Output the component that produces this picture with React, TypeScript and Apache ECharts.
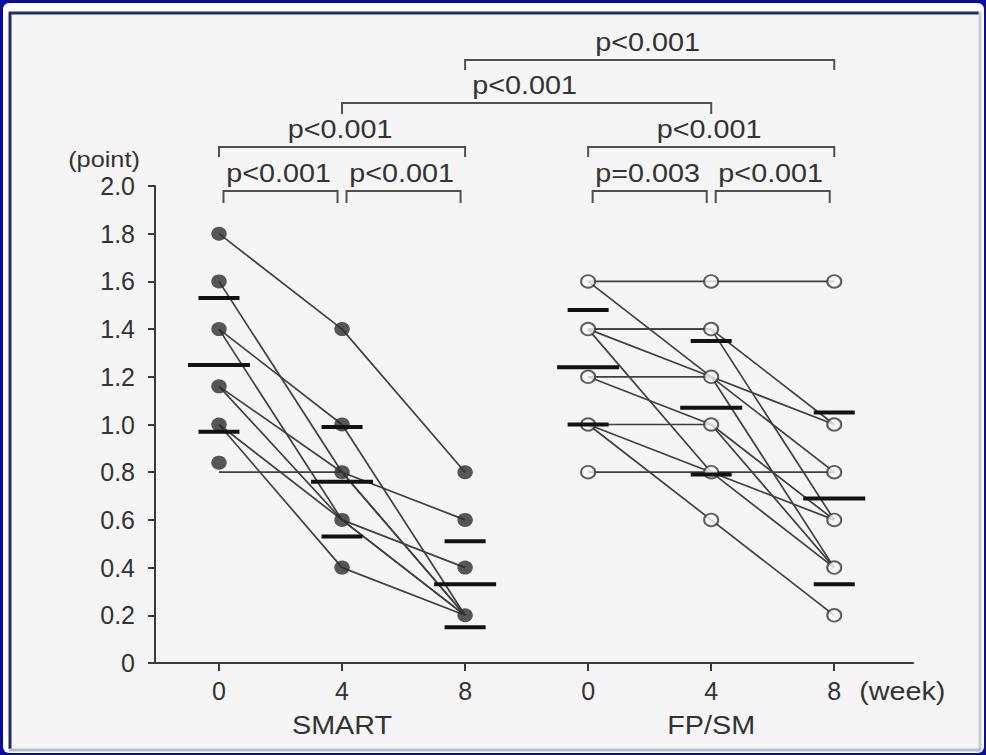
import { useEffect, useRef } from "react";
import * as echarts from "echarts";

// Slot order along the x axis: SMART 0/4/8 weeks, then FP/SM 0/4/8 weeks
const groupNames = ["SMART", "FP/SM"];
const weekLabels = ["0", "4", "8"];

// Individual patients: score at week 0, 4, 8
const smartSubjects: number[][] = [
  [1.8, 1.4, 0.8],
  [1.6, 0.8, 0.2],
  [1.4, 1.0, 0.2],
  [1.4, 0.6, 0.2],
  [1.16, 0.8, 0.6],
  [1.16, 0.6, 0.4],
  [1.0, 0.6, 0.2],
  [1.0, 0.4, 0.2],
  [0.8, 0.8, 0.2],
];
const fpsmSubjects: number[][] = [
  [1.6, 1.6, 1.6],
  [1.6, 1.2, 0.8],
  [1.4, 1.4, 1.0],
  [1.4, 1.4, 0.6],
  [1.4, 1.2, 1.0],
  [1.4, 0.8, 0.4],
  [1.2, 1.2, 0.4],
  [1.2, 1.0, 0.6],
  [1.0, 1.0, 0.4],
  [1.0, 0.8, 0.6],
  [1.0, 0.6, 0.2],
  [0.8, 0.8, 0.8],
];

// Plotted markers per week (overlapping patients share one marker)
const smartDots: number[][] = [
  [1.8, 1.6, 1.4, 1.16, 1.0, 0.84],
  [1.4, 1.0, 0.8, 0.6, 0.4],
  [0.8, 0.6, 0.4, 0.2],
];
const fpsmDots: number[][] = [
  [1.6, 1.4, 1.2, 1.0, 0.8],
  [1.6, 1.4, 1.2, 1.0, 0.8, 0.6],
  [1.6, 1.0, 0.8, 0.6, 0.4, 0.2],
];

// Mean and standard deviation per week
const smartMean = [1.25, 0.76, 0.33];
const smartSd = [0.28, 0.23, 0.18];
const fpsmMean = [1.24, 1.07, 0.69];
const fpsmSd = [0.24, 0.28, 0.36];

// Pairwise comparisons between slots (0..5); level = bracket row from the bottom
const comparisons = [
  { from: 0, to: 1, label: "p<0.001", level: 0 },
  { from: 1, to: 2, label: "p<0.001", level: 0 },
  { from: 3, to: 4, label: "p=0.003", level: 0 },
  { from: 4, to: 5, label: "p<0.001", level: 0 },
  { from: 0, to: 2, label: "p<0.001", level: 1 },
  { from: 3, to: 5, label: "p<0.001", level: 1 },
  { from: 1, to: 4, label: "p<0.001", level: 2 },
  { from: 2, to: 5, label: "p<0.001", level: 3 },
];

const FONT = '"Liberation Sans", Arial, Helvetica, sans-serif';
const INK = "#3a3a3a";

export default function App() {
  const ref = useRef<HTMLDivElement>(null);

  useEffect(() => {
    document.body.style.margin = "0";
    const chart = echarts.init(ref.current!, null, { renderer: "svg" });

    const lineSeries: any[] = [];
    const addLines = (subjects: number[][], offset: number) => {
      subjects.forEach((s) => {
        lineSeries.push({
          type: "line",
          data: s.map((v, i) => [offset + i, v]),
          symbol: "none",
          silent: true,
          z: 2,
          lineStyle: { color: "#404040", width: 1.7 },
        });
      });
    };
    addLines(smartSubjects, 0);
    addLines(fpsmSubjects, 3);

    const dotData = (dots: number[][], offset: number) =>
      dots.flatMap((vals, i) => vals.map((v) => [offset + i, v]));

    const statData = [
      ...smartMean.map((m, i) => [i, m, smartSd[i]]),
      ...fpsmMean.map((m, i) => [3 + i, m, fpsmSd[i]]),
    ];

    const slots = [0, 1, 2, 3, 4, 5];

    chart.setOption({
      animation: false,
      grid: { left: 155, right: 73, top: 186, bottom: 92, containLabel: false },
      xAxis: {
        type: "value",
        min: -0.52,
        max: 5.64,
        splitLine: { show: false },
        axisLine: { show: true, onZero: false, lineStyle: { color: INK, width: 2 } },
        axisTick: {
          show: true,
          customValues: slots,
          length: 8,
          lineStyle: { color: INK, width: 2 },
        },
        axisLabel: {
          customValues: slots,
          formatter: (v: number) => weekLabels[Math.round(v) % 3],
          fontFamily: FONT,
          fontSize: 25,
          color: "#333",
          margin: 15,
        },
      },
      yAxis: {
        type: "value",
        min: 0,
        max: 2,
        interval: 0.2,
        splitLine: { show: false },
        axisLine: { show: true, onZero: false, lineStyle: { color: INK, width: 2 } },
        axisTick: { show: true, length: 7, lineStyle: { color: INK, width: 2 } },
        axisLabel: {
          formatter: (v: number) => (v === 0 ? "0" : v.toFixed(1)),
          fontFamily: FONT,
          fontSize: 25,
          color: "#333",
          margin: 20,
        },
      },
      series: [
        ...lineSeries,
        {
          type: "scatter",
          data: dotData(smartDots, 0),
          symbol: "circle",
          symbolSize: [15.5, 14],
          itemStyle: { color: "#2e2e2e" },
          silent: true,
          z: 3,
        },
        {
          type: "scatter",
          data: dotData(fpsmDots, 3),
          symbol: "circle",
          symbolSize: [14, 12.5],
          itemStyle: { color: "#f8f8f8", borderColor: "#3a3a3a", borderWidth: 2 },
          silent: true,
          z: 3,
        },
        {
          type: "custom",
          data: statData,
          silent: true,
          z: 4,
          renderItem: (_params: any, api: any) => {
            const x = api.value(0);
            const m = api.value(1);
            const s = api.value(2);
            const c = api.coord([x, m]);
            const up = api.coord([x, m + s]);
            const lo = api.coord([x, m - s]);
            const bar = (p: number[], half: number) => ({
              type: "line",
              shape: { x1: p[0] - half, y1: p[1], x2: p[0] + half, y2: p[1] },
              style: { stroke: "#111", lineWidth: 4 },
            });
            return {
              type: "group",
              children: [bar(c, 31), bar(up, 20.5), bar(lo, 20.5)],
            };
          },
        },
      ],
    });

    const xPix = (slot: number) =>
      (chart.convertToPixel({ xAxisIndex: 0, yAxisIndex: 0 } as any, [slot, 0]) as number[])[0];
    const baseY = (chart.convertToPixel({ xAxisIndex: 0, yAxisIndex: 0 } as any, [0, 0]) as number[])[1];

    const label = (text: string, x: number, y: number, size: number) => ({
      type: "text",
      x,
      y,
      scaleX: 1.15,
      z: 10,
      style: {
        text,
        fill: "#333",
        font: `${size}px ${FONT}`,
        align: "center",
        verticalAlign: "middle",
      },
    });

    // bracket rows (pixel heights above the plot) and their end-tick drop
    const rowY = [191, 147, 103, 60];
    const rowDrop = [12, 10, 11, 10];

    const brackets: any[] = [];
    comparisons.forEach((c) => {
      const inset = c.level === 0 ? 4.5 : 0;
      const x1 = xPix(c.from) + inset;
      const x2 = xPix(c.to) - inset;
      const y = rowY[c.level];
      const d = rowDrop[c.level];
      brackets.push({
        type: "polyline",
        z: 10,
        shape: { points: [[x1, y + d], [x1, y], [x2, y], [x2, y + d]] },
        style: { stroke: "#505050", lineWidth: 2, fill: null },
      });
      brackets.push(label(c.label, (x1 + x2) / 2 - 2, y - 17, 25));
    });

    const frame: any[] = [
      { type: "rect", z: -30, shape: { x: 0, y: 0, width: 986, height: 755 }, style: { fill: "#0b0c98" } },
      { type: "rect", z: -29, shape: { x: 3, y: 3, width: 981, height: 750, r: 6 }, style: { fill: "#fdfdfd" } },
      { type: "rect", z: -28, shape: { x: 9, y: 12, width: 970, height: 737 }, style: { fill: "#f5f5f5" } },
      { type: "line", z: -27, shape: { x1: 9, y1: 13, x2: 979, y2: 13 }, style: { stroke: "#1e2d64", lineWidth: 3 } },
      { type: "line", z: -27, shape: { x1: 10, y1: 12, x2: 10, y2: 749 }, style: { stroke: "#1e2d64", lineWidth: 3 } },
      { type: "line", z: -27, shape: { x1: 980, y1: 12, x2: 980, y2: 750 }, style: { stroke: "#c9cbd6", lineWidth: 3 } },
      { type: "line", z: -27, shape: { x1: 9, y1: 750, x2: 981, y2: 750 }, style: { stroke: "#b9bccb", lineWidth: 3 } },
    ];

    const texts: any[] = [
      label("(point)", 104, 160, 22),
      label("(week)", xPix(5) + 68, baseY + 29, 25),
      label(groupNames[0], xPix(1), baseY + 63, 25),
      label(groupNames[1], xPix(4), baseY + 63, 25),
    ];

    chart.setOption({ graphic: [...frame, ...brackets, ...texts] });

    return () => chart.dispose();
  }, []);

  return <div ref={ref} style={{ width: 986, height: 755 }} />;
}
